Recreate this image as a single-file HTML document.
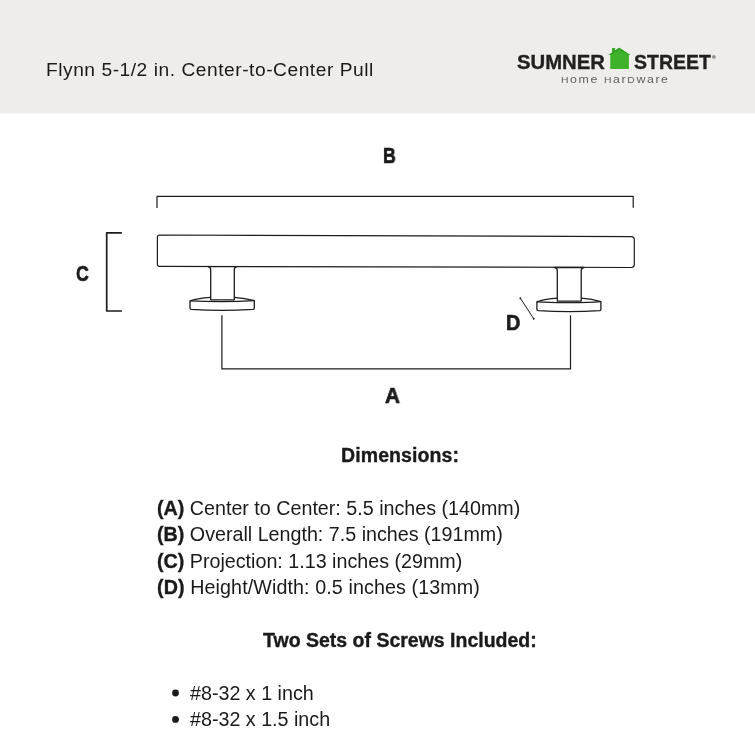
<!DOCTYPE html>
<html>
<head>
<meta charset="utf-8">
<style>
html,body{margin:0;padding:0;}
body{width:755px;height:755px;background:#fff;position:relative;overflow:hidden;font-family:"Liberation Sans",sans-serif;color:#1a1a1a;}
.hdr{position:absolute;left:0;top:0;width:755px;height:116px;background:linear-gradient(to bottom,#eeede9 0,#eeede9 112.3px,#fff 114.4px,#fff 116px);}
.t{position:absolute;white-space:nowrap;line-height:1;transform-origin:0 0;will-change:transform;}
.b{font-weight:bold;-webkit-text-stroke:0.35px currentColor;}
.u{font-size:9.8px;}
svg{position:absolute;left:0;top:0;}
</style>
</head>
<body>
<div class="hdr"></div>

<div class="t" id="title" style="left:46.2px;top:59.5px;font-size:19.2px;letter-spacing:0.53px;">Flynn 5-1/2 in. Center-to-Center Pull</div>

<!-- logo -->
<div class="t b" id="sumner" style="left:517.2px;top:53.4px;font-size:19.3px;color:#231f20;transform:scaleX(1.052);">SUMNER</div>
<div class="t b" id="street" style="left:634px;top:53.4px;font-size:19.3px;color:#231f20;transform:scaleX(1.01);">STREET</div>
<div class="t" id="homehw" style="left:560.6px;top:72.6px;font-size:11.7px;color:#606062;letter-spacing:1.5px;transform:scaleX(1.06);"><span class="u">H</span>ome <span class="u">H</span>ar<span class="u">D</span>ware</div>

<svg width="755" height="755" viewBox="0 0 755 755">
  <!-- house -->
  <path d="M608.4 54.9 L612.1 52.4 L612.1 48.2 L615.1 48.2 L615.1 50.4 L619.1 47.7 L630.4 54.9 L628.9 54.9 L628.9 69 L610.3 69 L610.3 54.9 Z" fill="#3db22a"/>
  <path d="M608.4 54.9 L612.1 52.4 L612.1 48.2 L615.1 48.2 L615.1 50.4 L619.1 47.7 L630.4 54.9 L628.9 54.9 L619.1 50.3 L610.3 54.9 Z" fill="#36a226"/>

  <g fill="none" stroke="#1c1c1c" stroke-width="1.2" stroke-linecap="butt" stroke-linejoin="round">
    <!-- B bracket -->
    <path d="M157 207.9 L157 196.4 L633.2 196.4 L633.2 207.7"/>
    <!-- C bracket -->
    <path d="M121.9 232.8 L106.7 232.8 L106.7 311 L121.9 311" stroke-width="1.7"/>
    <!-- A bracket -->
    <path d="M221.9 315.2 L221.9 368.9 L570.5 368.9 L570.5 315.2"/>
    <!-- D line -->
    <path d="M520.4 298.3 L533.7 318.7" stroke-width="1"/>
  </g>

  <g fill="#fff" stroke="#1c1c1c" stroke-width="1.3" stroke-linejoin="round">
    <!-- left base -->
    <path d="M190 300.9 C 196 298.9, 204 297.7, 210.5 297.3 L234.3 297.3 C 241 297.7, 248 298.8, 254.3 300.7 L254.3 308 Q254.3 309.2 253 309.4 Q 222.1 311.5 191.3 309.4 Q190 309.2 190 308 Z"/>
    <path d="M190 300.9 C 205 301.5, 239 301.5, 254.3 300.7" fill="none"/>
    <!-- right base -->
    <path d="M536.9 301.8 C 543 299.8, 551 298.6, 557.3 298.2 L581.2 298.2 C 588 298.6, 595 299.7, 600.9 301.6 L600.9 309.3 Q600.9 310.5 599.6 310.7 Q 568.9 312.5 538.2 310.7 Q536.9 310.5 536.9 309.3 Z"/>
    <path d="M536.9 301.8 C 552 302.9, 586 302.9, 600.9 301.6" fill="none"/>
    <!-- bar -->
    <path d="M159.5 235 L631.3 236.6 Q634.3 236.6 634.3 239.6 L634.3 264.5 Q634.3 267.5 631.3 267.5 L159.5 266.4 Q157.4 266.4 157.4 264.3 L157.4 237.1 Q157.4 235 159.5 235 Z" stroke-width="1.2"/>
    <!-- left stem -->
    <path d="M208 266.6 Q210.7 266.8 210.7 270 L210.7 299.8 L234.3 299.8 L234.3 270 Q234.3 266.8 237 266.6 Z" stroke-width="1.3"/>
    <!-- right stem -->
    <path d="M554.6 267.5 Q557.3 267.7 557.3 271 L557.3 301.1 L581.2 301.1 L581.2 271 Q581.2 267.7 583.9 267.5 Z" stroke-width="1.3"/>
  </g>
  <circle cx="713.9" cy="56.9" r="1.9" fill="#919090"/>
  <!-- D dots -->
  <circle cx="520.4" cy="298.3" r="1" fill="#222"/>
  <circle cx="533.7" cy="318.7" r="1" fill="#222"/>
  <!-- bullets -->
  <circle cx="175.5" cy="693" r="3.4" fill="#1a1a1a"/>
  <circle cx="175.5" cy="719.4" r="3.4" fill="#1a1a1a"/>
</svg>

<!-- diagram letters -->
<div class="t b" id="lB" style="left:383.2px;top:146px;font-size:21.5px;transform:scaleX(0.82);-webkit-text-stroke:0.7px currentColor;">B</div>
<div class="t b" id="lC" style="left:76px;top:264px;font-size:21.5px;transform:scaleX(0.82);-webkit-text-stroke:0.7px currentColor;">C</div>
<div class="t b" id="lA" style="left:384.7px;top:386px;font-size:21.5px;transform:scaleX(0.96);-webkit-text-stroke:0.7px currentColor;">A</div>
<div class="t b" id="lD" style="left:506px;top:313px;font-size:21.5px;transform:scaleX(0.92);-webkit-text-stroke:0.7px currentColor;">D</div>

<!-- text -->
<div class="t b" id="hDim" style="left:341.3px;top:445.5px;font-size:19.5px;letter-spacing:0.1px;">Dimensions:</div>

<div class="t" id="l1" style="left:157px;top:499px;font-size:19.7px;"><span class="b">(A)</span> Center to Center: 5.5 inches (140mm)</div>
<div class="t" id="l2" style="left:157px;top:525px;font-size:19.7px;"><span class="b">(B)</span> Overall Length: 7.5 inches (191mm)</div>
<div class="t" id="l3" style="left:157px;top:552px;font-size:19.7px;"><span class="b">(C)</span> Projection: 1.13 inches (29mm)</div>
<div class="t" id="l4" style="left:157px;top:578px;font-size:19.7px;letter-spacing:0.1px;"><span class="b">(D)</span> Height/Width: 0.5 inches (13mm)</div>

<div class="t b" id="hScr" style="left:263px;top:630.5px;font-size:19.5px;letter-spacing:0px;">Two Sets of Screws Included:</div>

<div class="t" id="s1" style="left:190.3px;top:684px;font-size:19.7px;">#8-32 x 1 inch</div>
<div class="t" id="s2" style="left:190.3px;top:710px;font-size:19.7px;">#8-32 x 1.5 inch</div>

</body>
</html>
